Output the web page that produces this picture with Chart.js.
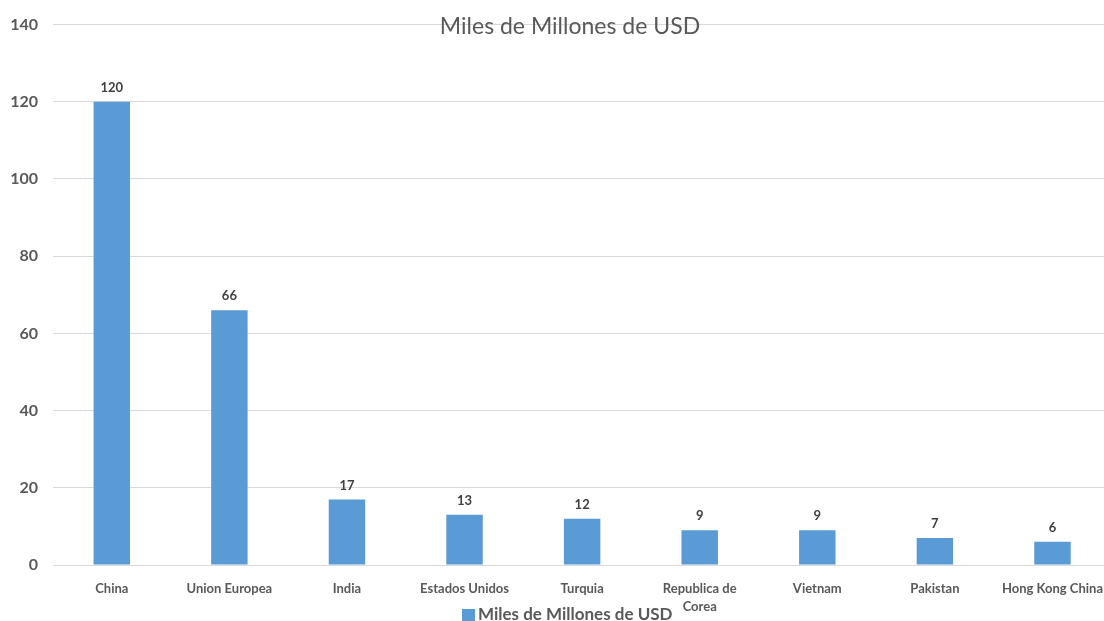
<!DOCTYPE html>
<html>
<head>
<meta charset="utf-8">
<title>Miles de Millones de USD</title>
<script src="https://cdn.jsdelivr.net/npm/chart.js@4.4.1/dist/chart.umd.min.js"></script>
<style>
  html, body { margin: 0; padding: 0; background: #fff; overflow: hidden; }
  #wrap { width: 1117px; height: 621px; }
</style>
</head>
<body>
<div id="wrap"><canvas id="barChart"></canvas></div>
<script>
// -------------------- Data --------------------
const countries = ["China", "Union Europea", "India", "Estados Unidos", "Turquia",
  ["Republica de", "Corea"], "Vietnam", "Pakistan", "Hong Kong China"];
const values = [120, 66, 17, 13, 12, 9, 9, 7, 6];
const seriesName = "Miles de Millones de USD";
const yTicks = [0, 20, 40, 60, 80, 100, 120, 140];

const textGray = "#595959";
const barBlue = "#5B9BD5";

// -------------------- Plugins --------------------
// value labels above every bar
const valueLabels = {
  id: "valueLabels",
  afterDatasetsDraw(chart) {
    const ctx = chart.ctx;
    const meta = chart.getDatasetMeta(0);
    ctx.save();
    ctx.font = "bold 13px Lato";
    ctx.fillStyle = "#404040";
    ctx.textAlign = "center";
    ctx.textBaseline = "middle";
    meta.data.forEach((bar, i) => {
      ctx.fillText(chart.data.datasets[0].data[i], bar.x, bar.y - 14);
    });
    ctx.restore();
  }
};

// title sits on top of the 140 gridline, legend is cut at the bottom
const titleAndLegend = {
  id: "titleAndLegend",
  afterDraw(chart) {
    const ctx = chart.ctx;
    ctx.save();
    ctx.fillStyle = textGray;
    ctx.textAlign = "center";
    ctx.textBaseline = "middle";
    ctx.font = "23px Lato";
    ctx.fillText(seriesName, 570, 27);

    ctx.fillStyle = chart.data.datasets[0].backgroundColor;
    ctx.fillRect(462, 609, 13, 13);
    ctx.fillStyle = textGray;
    ctx.textAlign = "left";
    ctx.font = "bold 17px Lato";
    ctx.fillText(chart.data.datasets[0].label, 478, 615);
    ctx.restore();
  }
};

// -------------------- Chart --------------------
new Chart(document.getElementById("barChart"), {
  type: "bar",
  data: {
    labels: countries,
    datasets: [{
      label: seriesName,
      data: values,
      backgroundColor: barBlue,
      categoryPercentage: 1,
      barPercentage: 0.31
    }]
  },
  options: {
    responsive: true,
    maintainAspectRatio: false,
    animation: false,
    devicePixelRatio: 1,
    layout: { padding: { top: 22, right: 0, bottom: 0, left: 0 } },
    plugins: {
      legend: { display: false },
      title: { display: false },
      tooltip: { enabled: false }
    },
    scales: {
      x: {
        offset: true,
        grid: { display: false, drawTicks: false },
        border: { display: false },
        ticks: {
          autoSkip: false,
          maxRotation: 0,
          padding: 14,
          color: textGray,
          font: { family: "Lato", size: 13, weight: "bold", lineHeight: 1.45 }
        },
        afterFit(scale) { scale.height = 56; }
      },
      y: {
        min: 0,
        max: 140,
        afterBuildTicks(scale) { scale.ticks = yTicks.map(v => ({ value: v })); },
        grid: { color: "#d9d9d9", lineWidth: 1, drawTicks: false },
        border: { display: false },
        ticks: {
          padding: 15,
          color: textGray,
          font: { family: "Lato", size: 16, weight: "bold" }
        },
        afterFit(scale) { scale.width = 53; }
      }
    }
  },
  plugins: [valueLabels, titleAndLegend]
});
</script>
</body>
</html>
